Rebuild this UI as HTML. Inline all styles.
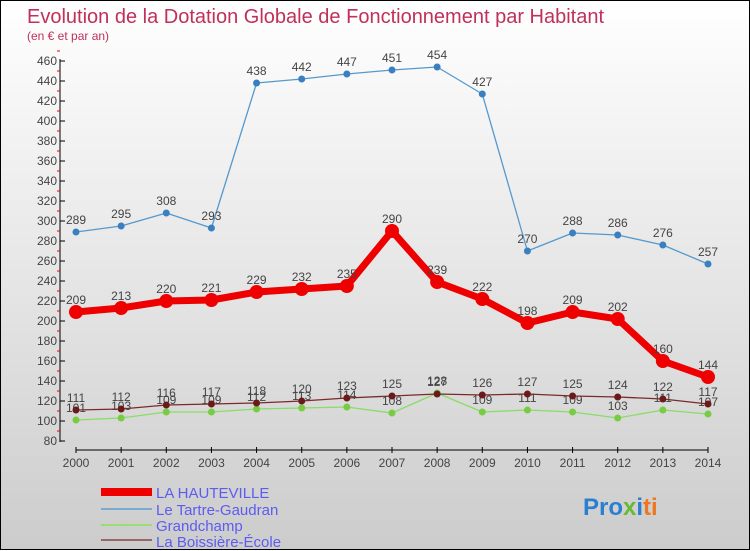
<!DOCTYPE html>
<html><head><meta charset="utf-8">
<style>
body{margin:0;width:750px;height:550px;overflow:hidden;font-family:"Liberation Sans",sans-serif}
#wrap{position:relative;width:748px;height:548px;border:1px solid #000;background:linear-gradient(#ffffff 0%,#e6e6e6 50%,#cccccc 100%)}
svg{position:absolute;left:0;top:0}
</style></head><body>
<div id="wrap">
<svg id="c" width="750" height="550">
<text x="26" y="22" font-size="20" fill="#c0305a">Evolution de la Dotation Globale de Fonctionnement par Habitant</text>
<text x="26" y="39" font-size="12" fill="#c0305a">(en € et par an)</text>
<g id="axes"></g><g id="series"></g>
<g>
<line x1="100" y1="491" x2="151" y2="491" stroke="#ee0000" stroke-width="8"/>
<text x="155" y="497" font-size="15" fill="#5c5cf0">LA HAUTEVILLE</text>
<line x1="100" y1="508" x2="151" y2="508" stroke="#7aaad0" stroke-width="2"/>
<text x="155" y="514" font-size="15" fill="#5c5cf0">Le Tartre-Gaudran</text>
<line x1="100" y1="524" x2="151" y2="524" stroke="#99dd77" stroke-width="2"/>
<text x="155" y="530" font-size="15" fill="#5c5cf0">Grandchamp</text>
<line x1="100" y1="539" x2="151" y2="539" stroke="#996666" stroke-width="2"/>
<text x="155" y="546" font-size="15" fill="#5c5cf0">La Boissière-École</text>
</g>
<text x="582" y="514" font-size="24" font-weight="bold"><tspan fill="#2a7fd0">Pro</tspan><tspan fill="#66bb33">x</tspan><tspan fill="#2a7fd0">i</tspan><tspan fill="#ee7722">ti</tspan></text>
</svg>
</div>
<script>
const years=[2000,2001,2002,2003,2004,2005,2006,2007,2008,2009,2010,2011,2012,2013,2014];
const hauteville=[209,213,220,221,229,232,235,290,239,222,198,209,202,160,144];
const tartre=[289,295,308,293,438,442,447,451,454,427,270,288,286,276,257];
const grandchamp=[101,103,109,109,112,113,114,108,128,109,111,109,103,111,107];
const boissiere=[111,112,116,117,118,120,123,125,127,126,127,125,124,122,117];
const yTicks=[80,100,120,140,160,180,200,220,240,260,280,300,320,340,360,380,400,420,440,460];
const NS="http://www.w3.org/2000/svg";
function X(i){return 75+i*(632/14);}
function Y(v){return 440-(v-80)*(380/380);}
function mk(t,a,p){const e=document.createElementNS(NS,t);for(const k in a)e.setAttribute(k,a[k]);p.appendChild(e);return e;}
const ax=document.getElementById('axes');
let l=mk('line',{x1:59,y1:58,x2:59,y2:441,stroke:'#000','stroke-width':1},ax);


yTicks.forEach(v=>{
 mk('line',{x1:59,y1:Y(v),x2:64,y2:Y(v),stroke:'#000'},ax);
 mk('line',{x1:56,y1:Y(v)-10,x2:59,y2:Y(v)-10,stroke:'#e00'},ax);
 const t=mk('text',{x:56,y:Y(v)+4,'font-size':12,'text-anchor':'end',fill:'#444'},ax);t.textContent=v;
 
 
});
l=mk('line',{x1:75,y1:449,x2:707,y2:449,stroke:'#000'},ax);


years.forEach((yr,i)=>{
 mk('line',{x1:X(i),y1:446,x2:X(i),y2:452,stroke:'#000'},ax);
 const t=mk('text',{x:X(i),y:466,'font-size':12,'text-anchor':'middle',fill:'#444'},ax);t.textContent=yr;
 
 
});
const sg=document.getElementById('series');
function draw(data,name,color,w,r,fill){
 const g=mk('g',{},sg);
 
 
 const p=mk('polyline',{points:data.map((v,i)=>X(i)+','+Y(v)).join(' '),fill:'none',stroke:color,'stroke-width':w,'stroke-linejoin':'round'},g);
 
 
 data.forEach((v,i)=>{
  const c=mk('circle',{cx:X(i),cy:Y(v),r:r,fill:fill},g);
  
  
  const t=mk('text',{x:X(i),y:Y(v)-8,'font-size':12,'text-anchor':'middle',fill:'#444'},g);t.textContent=v;
  
  
 });
}
draw(tartre,'le-tartre-gaudran','#5599cc',1.3,3.5,'#3a80c0');
draw(grandchamp,'grandchamp','#88dd66',1.3,3.5,'#77cc44');
draw(boissiere,'la-boissiere-ecole','#7a2a2a',1.3,3.5,'#6a1a1a');
draw(hauteville,'la-hauteville','#ee0000',7,7,'#ee0000');
</script>
</body></html>
